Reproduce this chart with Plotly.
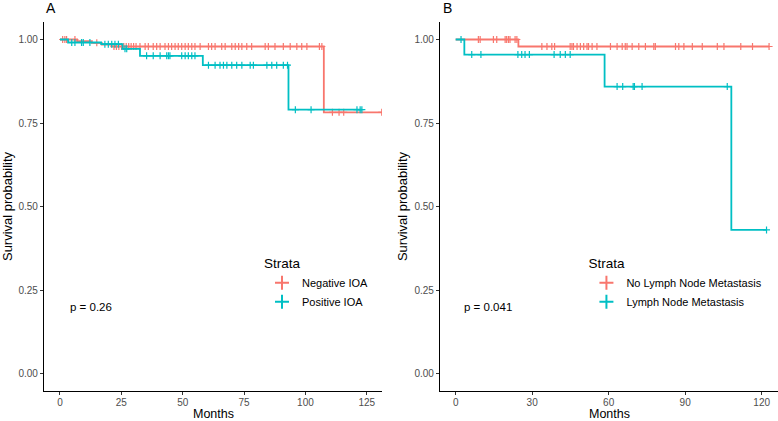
import plotly.graph_objects as go

# Kaplan-Meier curves (time in months, survival probability)
RED = "#F8766D"
TEAL = "#00BFC4"

# panel A - Negative IOA
neg_ioa_events = [7, 13, 17, 21, 107.5]
neg_ioa_surv = [0.995, 0.99, 0.985, 0.979, 0.782]
neg_ioa_end = 131.1
neg_ioa_censor = [1.1, 2, 2.7, 6.1, 15, 22, 23, 24, 25.1, 26, 27, 28, 29, 30, 31, 32.6,
                  34.7, 36, 38, 39.4, 40.8, 42.8, 44.2, 45.5, 46.9, 48.2, 49.6, 51, 52.3,
                  53.7, 55, 57.1, 60.5, 61.8, 63.2, 65.9, 67.3, 70, 71.4, 72.8, 74.1, 76.1,
                  78.1, 83.6, 84.9, 87.6, 91, 93.8, 96.5, 98.5, 100.6, 105.7, 106.7, 111,
                  113.7, 115.6, 131.1]

# panel A - Positive IOA
pos_ioa_events = [3.3, 16.8, 25.5, 32.6, 58.2, 93.1]
pos_ioa_surv = [0.991, 0.986, 0.972, 0.951, 0.923, 0.790]
pos_ioa_end = 123
pos_ioa_censor = [4.8, 6.1, 8.8, 9.5, 12.2, 18.3, 19.7, 21.1, 22.4, 23.8, 26.5, 27.2, 35.3,
                  38, 40.8, 43.5, 44.2, 44.8, 49.6, 51, 52.3, 53.7, 55, 60.5, 63.2, 65.2,
                  66.6, 68, 70, 72, 74.1, 77.5, 78.8, 84.3, 86.3, 88.3, 91, 92.7, 95.9,
                  102.3, 121, 122.3, 123]

# panel B - No Lymph Node Metastasis
no_lnm_events = [24.6]
no_lnm_surv = [0.979]
no_lnm_end = 122.9
no_lnm_censor = [8.9, 9.6, 14.8, 16.1, 19.4, 20, 20.7, 21.3, 23.3, 24, 33.8, 35.8, 37.7, 38.8,
                 44.9, 45.6, 46.2, 47.6, 48.9, 50.2, 51.5, 52.1, 53.5, 55.4, 60.7, 63.3, 65.3,
                 66.5, 67.2, 69.2, 71.8, 74.4, 77.7, 78.3, 86.2, 87.5, 89.5, 92.8, 96.7,
                 102.6, 105.2, 111.8, 116.4, 122.9]

# panel B - Lymph Node Metastasis
lnm_events = [3.4, 58.4, 108.1]
lnm_surv = [0.955, 0.859, 0.43]
lnm_end = 121.9
lnm_censor = [2.1, 6.3, 9.9, 24.4, 25.9, 27.2, 28.9, 38.6, 41, 43, 44.9, 63.3, 65.5, 69.6,
              70.1, 73.1, 106.5, 121.9]

ticks_a = [0, 25, 50, 75, 100, 125]
ticks_b = [0, 30, 60, 90, 120]
ticks_y = [0, 0.25, 0.5, 0.75, 1.0]

FONT = "Liberation Sans, Arial, sans-serif"


def surv_at(t, events, surv):
    s = 1.0
    for e, v in zip(events, surv):
        if e <= t:
            s = v
    return s


def add_curve(fig, name, events, surv, end, censor, color, xa, ya, legend):
    fig.add_trace(go.Scatter(
        x=[0] + events + [end], y=[1.0] + surv + [surv[-1]],
        mode="lines", line=dict(color=color, width=1.8, shape="hv"),
        xaxis=xa, yaxis=ya, showlegend=False, hoverinfo="skip"))
    fig.add_trace(go.Scatter(
        x=censor, y=[surv_at(t, events, surv) for t in censor],
        mode="markers", name=name,
        marker=dict(symbol="cross-thin-open", size=5, color=color,
                    line=dict(color=color, width=1.2)),
        xaxis=xa, yaxis=ya, showlegend=False))
    # legend entry
    fig.add_trace(go.Scatter(
        x=[None], y=[None], mode="markers", name=name, legend=legend,
        marker=dict(symbol="cross-thin-open", size=10, color=color,
                    line=dict(color=color, width=2)),
        xaxis=xa, yaxis=ya))


fig = go.Figure()
add_curve(fig, "Negative IOA", neg_ioa_events, neg_ioa_surv, neg_ioa_end, neg_ioa_censor, RED, "x", "y", "legend")
add_curve(fig, "Positive IOA", pos_ioa_events, pos_ioa_surv, pos_ioa_end, pos_ioa_censor, TEAL, "x", "y", "legend")
add_curve(fig, "No Lymph Node Metastasis", no_lnm_events, no_lnm_surv, no_lnm_end, no_lnm_censor, RED, "x2", "y2", "legend2")
add_curve(fig, "Lymph Node Metastasis", lnm_events, lnm_surv, lnm_end, lnm_censor, TEAL, "x2", "y2", "legend2")

axis_common = dict(showline=True, linecolor="black", linewidth=1.1, showgrid=False, zeroline=False,
                   ticks="outside", ticklen=3, tickwidth=1, tickcolor="#333333",
                   tickfont=dict(size=10, color="#4D4D4D"))

fig.update_layout(
    width=778, height=421,
    margin=dict(l=44, r=0, t=22, b=30),
    plot_bgcolor="white", paper_bgcolor="white",
    font=dict(family=FONT, color="black"),
    xaxis=dict(domain=[0, 0.4605], range=[-6.5, 131.2], tickvals=ticks_a, ticklabelstandoff=-1,
               **axis_common),
    yaxis=dict(domain=[0, 1], range=[-0.0524, 1.0524], tickvals=ticks_y, tickformat=".2f",
               title=dict(text="Survival probability", font=dict(size=13), standoff=3), **axis_common),
    xaxis2=dict(domain=[0.5395, 1], range=[-6.15, 126.4], tickvals=ticks_b, anchor="y2",
                ticklabelstandoff=-1, **axis_common),
    yaxis2=dict(domain=[0, 1], range=[-0.0524, 1.0524], tickvals=ticks_y, tickformat=".2f", anchor="x2",
                title=dict(text="Survival probability", font=dict(size=13), standoff=3), **axis_common),
    legend=dict(x=0.297, y=0.38, xanchor="left", yanchor="top", bgcolor="rgba(0,0,0,0)",
                title=dict(text="Strata", font=dict(size=13.5)), font=dict(size=11)),
    legend2=dict(x=0.739, y=0.38, xanchor="left", yanchor="top", bgcolor="rgba(0,0,0,0)",
                 title=dict(text="Strata", font=dict(size=13.5)), font=dict(size=11)),
    annotations=[
        dict(text="Months", x=0.2303, y=-0.0626, xref="paper", yref="paper", xanchor="center",
             yanchor="middle", showarrow=False, font=dict(size=12.5)),
        dict(text="Months", x=0.7704, y=-0.0626, xref="paper", yref="paper", xanchor="center",
             yanchor="middle", showarrow=False, font=dict(size=12.5)),
        dict(text="p = 0.26", x=3.3, y=0.2, xref="x", yref="y", xanchor="left", showarrow=False,
             font=dict(size=11.5)),
        dict(text="p = 0.041", x=2.6, y=0.2, xref="x2", yref="y2", xanchor="left", showarrow=False,
             font=dict(size=11.5)),
        dict(text="A", x=0.0, y=1.038, xref="paper", yref="paper", xanchor="left", yanchor="middle",
             showarrow=False, font=dict(size=14)),
        dict(text="B", x=0.541, y=1.038, xref="paper", yref="paper", xanchor="left", yanchor="middle",
             showarrow=False, font=dict(size=14)),
    ],
)

fig.write_html("out.html", config={"displayModeBar": False},
               post_script="document.body.style.margin='0';")
